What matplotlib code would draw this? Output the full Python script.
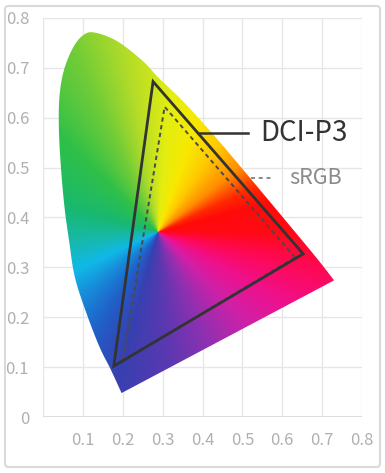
import numpy as np
import matplotlib
matplotlib.use("Agg")
import matplotlib.pyplot as plt
from matplotlib.patches import Polygon, FancyBboxPatch
from matplotlib.colors import to_rgb

plt.rcParams['font.family'] = ['Noto Sans CJK KR', 'DejaVu Sans']

# 色度图外轮廓 (从图上读出的 x, y)，蓝端 -> 左侧 -> 顶部 -> 红端
locus_x = [0.197, 0.170, 0.142, 0.109, 0.080, 0.066, 0.054, 0.045, 0.040,
           0.041, 0.052, 0.075, 0.100, 0.128, 0.185, 0.250, 0.290, 0.350,
           0.425, 0.4975, 0.555, 0.6175, 0.685, 0.730]
locus_y = [0.048, 0.095, 0.140, 0.208, 0.280, 0.350, 0.420, 0.500, 0.574,
           0.640, 0.694, 0.740, 0.765, 0.771, 0.754, 0.714, 0.680, 0.634,
           0.568, 0.500, 0.445, 0.385, 0.320, 0.274]

# 色域三角形 (R, G, B 顶点)
dci_x = [0.6525, 0.276, 0.1775]
dci_y = [0.327, 0.6726, 0.102]
srgb_x = [0.632, 0.305, 0.200]
srgb_y = [0.320, 0.622, 0.112]

# 颜色渐变中心 (白点附近) 以及角度色标
center = (0.2875, 0.370)
hue_angles = [0, 15, 25, 38, 55, 70, 85, 100, 115, 135, 165, 185, 205,
              222, 238, 255, 275, 295, 315, 332, 348, 360]
hue_colors = ['#ff0a14', '#ff0a0a', '#ff2a00', '#ff8c00', '#ffc800',
              '#f8e800', '#e4ee10', '#b4dc28', '#70cc38', '#30c048',
              '#18b870', '#18b8a8', '#10b8e8', '#1888d8', '#2060c8',
              '#3840b0', '#5c38b0', '#9030b0', '#d020a8', '#f0108a',
              '#ff0850', '#ff0a14']

ticks_y = [0, 0.1, 0.2, 0.3, 0.4, 0.5, 0.6, 0.7, 0.8]
ticks_x = [0.1, 0.2, 0.3, 0.4, 0.5, 0.6, 0.7, 0.8]


def smooth_curve(xs, ys, steps=12):
    """Catmull-Rom 平滑轮廓线 (端点保持不变)"""
    p = np.column_stack([xs, ys])
    p = np.vstack([p[0], p, p[-1]])
    out = []
    t = np.linspace(0, 1, steps, endpoint=False)[:, None]
    for i in range(1, len(p) - 2):
        p0, p1, p2, p3 = p[i - 1], p[i], p[i + 1], p[i + 2]
        seg = 0.5 * ((2 * p1) + (-p0 + p2) * t +
                     (2 * p0 - 5 * p1 + 4 * p2 - p3) * t ** 2 +
                     (-p0 + 3 * p1 - 3 * p2 + p3) * t ** 3)
        out.append(seg)
    out.append(p[-2][None, :])
    return np.vstack(out)


fig = plt.figure(figsize=(3.85, 4.73), dpi=100)
ax = fig.add_axes([43 / 385, 56 / 473, 319 / 385, 399 / 473])
ax.set_xlim(0, 0.8)
ax.set_ylim(0, 0.8)

# 网格
for t in ticks_y:
    ax.axhline(t, color='#e6e6e6', lw=1.0, zorder=0)
for t in [0] + ticks_x:
    ax.axvline(t, color='#e6e6e6', lw=1.0, zorder=0)
ax.axhline(0, color='#d8d8d8', lw=1.2, zorder=0)

# 锥形渐变 (按像素比例计算角度)
n = 600
gx, gy = np.meshgrid(np.linspace(0, 0.8, n), np.linspace(0, 0.8, n))
ang = np.degrees(np.arctan2((gy - center[1]) * 500, (gx - center[0]) * 400)) % 360
rgb = np.array([to_rgb(c) for c in hue_colors])
img = np.dstack([np.interp(ang, hue_angles, rgb[:, k]) for k in range(3)])

im = ax.imshow(img, extent=[0, 0.8, 0, 0.8], origin='lower', aspect='auto',
               interpolation='bilinear', zorder=1)
locus = Polygon(smooth_curve(locus_x, locus_y), closed=True,
                facecolor='none', edgecolor='none', transform=ax.transData)
ax.add_patch(locus)
im.set_clip_path(locus)

# 三角形
ax.add_patch(Polygon(np.column_stack([srgb_x, srgb_y]), closed=True, fill=False,
                     edgecolor='#4a4a4a', lw=1.4, linestyle=(0, (2.2, 1.8)), zorder=3))
ax.add_patch(Polygon(np.column_stack([dci_x, dci_y]), closed=True, fill=False,
                     edgecolor='#333333', lw=2.0, joinstyle='miter', zorder=4))

# 标注
ax.plot([0.388, 0.513], [0.5693, 0.5693], color='#333333', lw=1.8, zorder=4)
ax.text(0.545, 0.5693, 'DCI-P3', fontsize=20, color='#333333', va='center',
        ha='left', fontweight='medium')
ax.plot([0.5225, 0.58], [0.479, 0.479], color='#888888', lw=1.4,
        linestyle=(0, (2, 2)), zorder=4)
ax.text(0.6165, 0.479, 'sRGB', fontsize=15.5, color='#8a8a8a', va='center', ha='left')

ax.set_xticks(ticks_x)
ax.set_yticks(ticks_y)
ax.set_xticklabels([f'{t:g}' for t in ticks_x])
ax.set_yticklabels([f'{t:g}' for t in ticks_y])
ax.tick_params(length=0, labelsize=12, labelcolor='#b0b0b0')
ax.tick_params(axis='x', pad=11)
ax.tick_params(axis='y', pad=10)
for s in ax.spines.values():
    s.set_visible(False)

# 外框
fig.patches.append(FancyBboxPatch((5 / 385, 6 / 473), 375 / 385, 461 / 473,
                                  boxstyle='round,pad=0,rounding_size=0.008',
                                  transform=fig.transFigure, fill=False,
                                  edgecolor='#dadada', lw=1.5))

fig.savefig('out.png', dpi=100)
